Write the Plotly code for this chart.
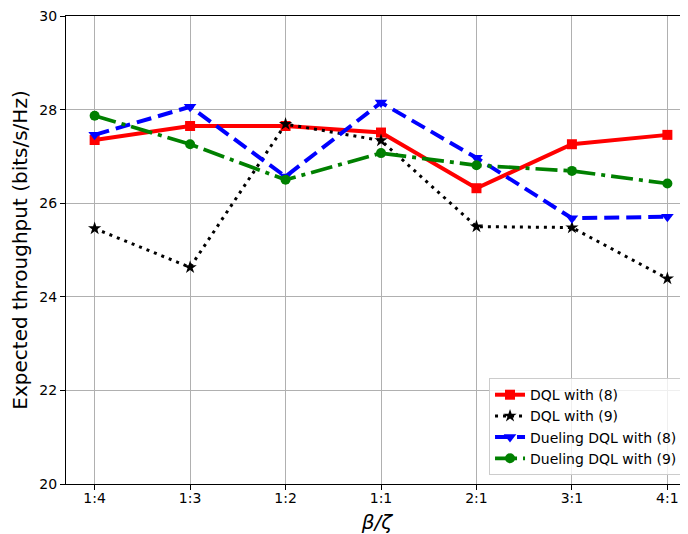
import plotly.graph_objects as go

categories = ["1:4", "1:3", "1:2", "1:1", "2:1", "3:1", "4:1"]
dql8 = [27.35, 27.65, 27.65, 27.51, 26.32, 27.26, 27.46]
dql9 = [25.46, 24.63, 27.69, 27.34, 25.50, 25.48, 24.39]
dueling8 = [27.46, 28.06, 26.57, 28.15, 26.97, 25.68, 25.71]
dueling9 = [27.87, 27.26, 26.50, 27.07, 26.81, 26.69, 26.42]
y_ticks = [20, 22, 24, 26, 28, 30]

xs = list(range(len(categories)))
font = "DejaVu Sans, sans-serif"

fig = go.Figure()
fig.add_trace(go.Scatter(x=xs, y=dql8, name="DQL with (8)", mode="lines+markers",
                         line=dict(color="#ff0000", width=4),
                         marker=dict(symbol="square", size=10, color="#ff0000")))
fig.add_trace(go.Scatter(x=xs, y=dql9, name="DQL with (9)", mode="lines+markers",
                         line=dict(color="#000000", width=3, dash="3px,5px"),
                         marker=dict(symbol="star", size=10, color="#000000")))
fig.add_trace(go.Scatter(x=xs, y=dueling8, name="Dueling DQL with (8)", mode="lines+markers",
                         line=dict(color="#0000ff", width=4, dash="15px,7px"),
                         marker=dict(symbol="triangle-down", size=11, color="#0000ff")))
fig.add_trace(go.Scatter(x=xs, y=dueling9, name="Dueling DQL with (9)", mode="lines+markers",
                         line=dict(color="#008000", width=3.7, dash="22px,6px,4px,6px"),
                         marker=dict(symbol="circle", size=10, color="#008000")))

# page body has an 8px margin, so the figure is 8px smaller and margins shifted
fig.update_layout(
    width=680, height=526,
    margin=dict(l=58, r=0, t=8, b=50, autoexpand=False),
    paper_bgcolor="white", plot_bgcolor="white",
    font=dict(family=font, size=14, color="black"),
    showlegend=True,
    legend=dict(x=0.992, y=0.019, xanchor="right", yanchor="bottom",
                bgcolor="rgba(255,255,255,0.8)", bordercolor="#cccccc", borderwidth=1,
                font=dict(size=14), tracegroupgap=0, itemwidth=30),
)
fig.update_xaxes(
    range=[-0.3, 6.216], tickmode="array", tickvals=xs, ticktext=categories,
    showgrid=True, gridcolor="#b0b0b0", gridwidth=1, zeroline=False,
    showline=True, linecolor="black", linewidth=1.2, mirror=True,
    ticks="outside", ticklen=5, tickcolor="black", automargin=False,
    tickfont=dict(size=14), ticklabeloverflow="allow", ticklabelstandoff=-4,
    title=dict(text="β/ζ", font=dict(size=20, style="italic"), standoff=11),
)
fig.update_yaxes(
    range=[20, 30], tickmode="array", tickvals=y_ticks,
    showgrid=True, gridcolor="#b0b0b0", gridwidth=1, zeroline=False,
    showline=True, linecolor="black", linewidth=1.2,
    ticks="outside", ticklen=5, tickcolor="black", automargin=False,
    tickfont=dict(size=14), ticklabeloverflow="allow",
    title=dict(text="Expected throughput (bits/s/Hz)", font=dict(size=20), standoff=8),
)

fig.write_html("out.html")
